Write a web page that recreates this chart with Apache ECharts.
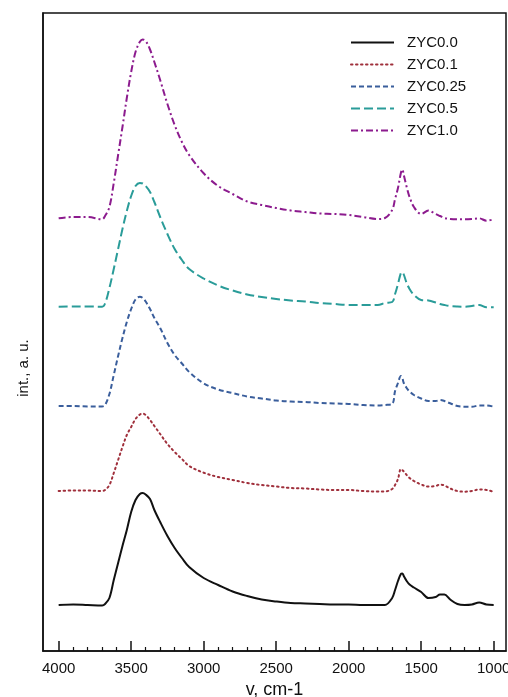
<!DOCTYPE html>
<html><head><meta charset="utf-8">
<script src="https://cdn.jsdelivr.net/npm/echarts@6/dist/echarts.min.js"></script>
<style>html,body{margin:0;padding:0;background:#fff}#c{width:508px;height:697px}</style>
</head><body><div id="c"></div>
<script>
const wavenumbers = [4000,3900,3800,3700,3680,3650,3620,3590,3560,3530,3500,3470,3440,3420,3400,3370,3340,3300,3250,3200,3150,3100,3000,2900,2800,2700,2600,2500,2400,2300,2200,2100,2000,1900,1800,1750,1700,1680,1660,1640,1630,1620,1600,1580,1550,1500,1450,1400,1370,1340,1300,1250,1200,1150,1100,1050,1000];
const zyc00 = [46,46.5,46,45.5,47,53,71,88,105,121,139,151,157,158,156.5,152,141,129,115,103,93,84,73,66,59.5,55,51.5,49.5,48,47.5,47,46.5,46.5,46,46,46,53,61,70,77,77.5,75,70,66.5,63.5,59,53,54,56.5,56.5,51.5,47,46,46.5,48.5,46.5,46];
const zyc01 = [160,160.5,160.5,160,161,166,178,191,204,216,224,232,236.5,237.5,236,231,225,217,207,199,192,185,178.3,174,171,168,166,164.5,163,162.5,161.5,161,161,160,159.5,159.5,162,166,172,182,181,179.5,176,173,170,166.5,164.5,165,166.5,165.5,162.5,160,159.3,160,161.5,161,159.3];
const zyc025 = [245,245,244.5,244.5,246,257,276,295,313,329,342,351.5,354.3,353,349.5,342,333,323,308,296,287.5,279,267.7,261.5,258,254.5,252.5,250.5,249.5,249,248,247.5,247,246,245.5,246,247,260,268,275,273,268,263,259.5,256,252.5,250,250,251,250,247.7,245,244.3,244.3,245.5,245.5,244.3];
const zyc05 = [344.3,344.5,344.5,344.3,347.5,363,382,402,422,440,455,465,468,467.5,465,459,449,434,417,402,391,382,372.5,365.5,360.5,356.5,354,352,350.5,349.5,348,347,346,346,346,348,349,357,367,378,379,376.5,368,362,356,351,350.5,348.5,347,346,345,344.5,344.3,345,346,343.7,343.7];
const zyc10 = [432.7,434,434,431.7,435,444,468,496,524,553,579,599,609.3,611.5,610,601.5,589,571,547,526,509,496,477.7,465,457,449.5,446,443,440.5,439,437.5,437,436,434,432,433,441,452,463,478,481.5,476,464,454,444,437,440.5,437,435,433,432,431.7,431.7,432,432.7,430.3,431.7];
const seriesNames = ['ZYC0.0','ZYC0.1','ZYC0.25','ZYC0.5','ZYC1.0'];
const tickValues = [4000,3500,3000,2500,2000,1500,1000];
const minorTickValues = [3900,3800,3700,3600,3400,3300,3200,3100,2900,2800,2700,2600,2400,2300,2200,2100,1900,1800,1700,1600,1400,1300,1200,1100];

const values = [zyc00, zyc01, zyc025, zyc05, zyc10];
const colors = ['#111111','#a0303c','#3a5e9c','#2a9c99','#8c1b8e'];
const dashes = ['solid',[1.5,3.5],[5,3],[9,4],[7,3,2,3]];
const FONT = 'Liberation Sans, Arial, sans-serif';

const chart = echarts.init(document.getElementById('c'), null, {renderer:'canvas'});
const series = values.map((v,k)=>({
  name: seriesNames[k],
  type: 'line',
  symbol: 'none',
  smooth: 0.35,
  data: wavenumbers.map((w,i)=>[w, v[i]]),
  lineStyle: {color: colors[k], width: 2, type: dashes[k], cap: k===1 ? 'round' : 'butt', join: 'round'},
  itemStyle: {color: colors[k]},
  xAxisIndex: 0
}));
chart.setOption({
  animation: false,
  backgroundColor: '#fff',
  grid: {left: 43, right: 2, top: 13, bottom: 46, containLabel: false, outerBoundsMode: 'none',
         show: true, borderColor: '#111', borderWidth: 1.5, backgroundColor: 'transparent'},
  legend: {
    orient: 'vertical', left: 350, top: 35, padding: 0,
    itemWidth: 43, itemHeight: 14, itemGap: 7,
    data: seriesNames,
    itemStyle: {opacity: 0},
    textStyle: {fontFamily: FONT, fontSize: 15, color: '#111', padding: [0,0,0,8]}
  },
  xAxis: [{
    type: 'value', inverse: true, min: 915, max: 4108,
    axisLine: {show: true, lineStyle: {color: '#111', width: 1.5}},
    axisTick: {show: true, inside: true, length: 10, customValues: tickValues, lineStyle: {color: '#111', width: 1.5}},
    axisLabel: {customValues: tickValues, formatter: v => String(v), fontFamily: FONT, fontSize: 15, color: '#111', margin: 10, showMinLabel: true, showMaxLabel: true, hideOverlap: false},
    splitLine: {show: false},
    name: 'v, cm-1', nameLocation: 'middle', nameGap: 28,
    nameTextStyle: {fontFamily: FONT, fontSize: 18, color: '#111'}
  },{
    type: 'value', inverse: true, min: 915, max: 4108, position: 'bottom',
    axisLine: {show: false},
    axisTick: {show: true, inside: true, length: 4, customValues: minorTickValues, lineStyle: {color: '#111', width: 1.2}},
    axisLabel: {show: false},
    splitLine: {show: false}
  }],
  yAxis: {
    type: 'value', min: 0, max: 638,
    axisLine: {show: true, lineStyle: {color: '#111', width: 1.5}},
    axisTick: {show: false}, axisLabel: {show: false}, splitLine: {show: false}
  },
  graphic: [{
    type: 'text', x: 24, y: 368, rotation: Math.PI/2,
    style: {text: 'int., a. u.', fontFamily: FONT, fontSize: 15, fill: '#111', align: 'center', verticalAlign: 'middle'}
  }],
  series: series
});
</script></body></html>
